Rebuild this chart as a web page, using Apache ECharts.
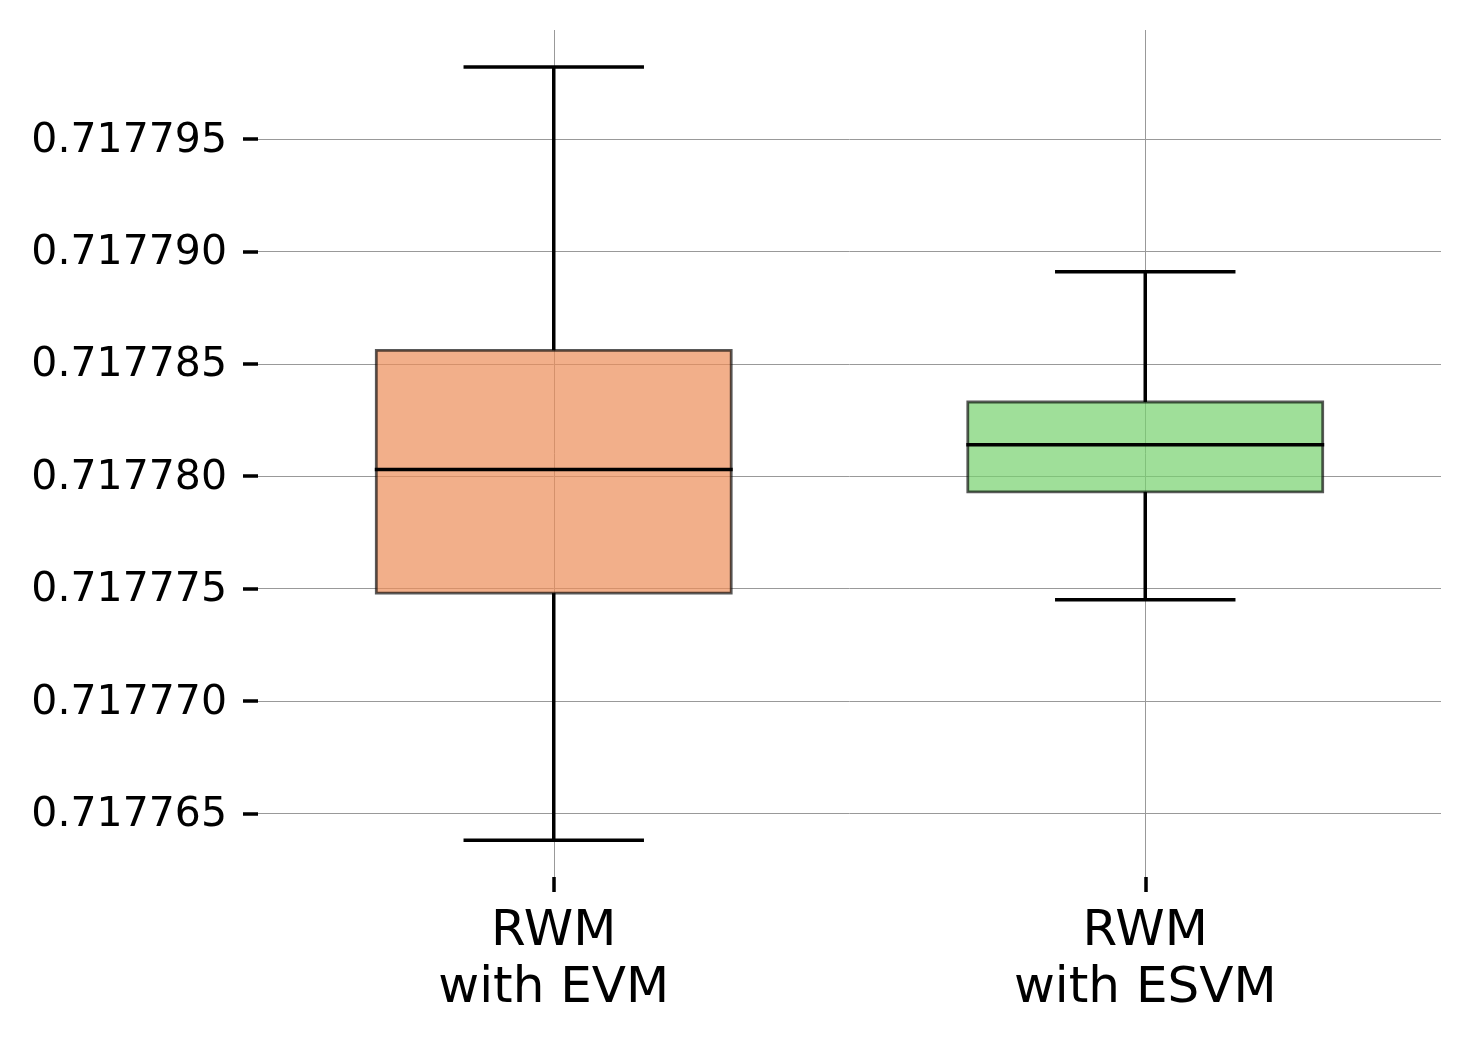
<!DOCTYPE html>
<html>
<head>
<meta charset="utf-8">
<script src="https://cdn.jsdelivr.net/npm/echarts@6/dist/echarts.min.js"></script>
<style>
html,body{margin:0;padding:0;background:#fff;}
#chart{width:1470px;height:1041px;}
</style>
</head>
<body>
<div id="chart"></div>
<script>
// Data
const categories = ['RWM\nwith EVM', 'RWM\nwith ESVM'];
const positions = [1, 2];
const lowerWhisker = [0.7177638, 0.7177745];
const q1 = [0.7177748, 0.7177793];
const median = [0.7177803, 0.7177814];
const q3 = [0.7177856, 0.7177833];
const upperWhisker = [0.7177982, 0.7177891];
const yTicks = [0.717765, 0.717770, 0.717775, 0.717780, 0.717785, 0.717790, 0.717795];
const boxColors = ['rgba(236,141,88,0.7)', 'rgba(118,209,109,0.7)'];

const data = positions.map((p, i) => [p, lowerWhisker[i], q1[i], median[i], q3[i], upperWhisker[i]]);

const chart = echarts.init(document.getElementById('chart'), null, {renderer: 'canvas'});

function renderItem(params, api) {
  const idx = params.dataIndex;
  const x = api.value(0);
  const band = api.size([1, 0])[0];
  const boxW = band * 0.6;
  const capW = band * 0.3;
  const pLow = api.coord([x, api.value(1)]);
  const pQ1 = api.coord([x, api.value(2)]);
  const pMed = api.coord([x, api.value(3)]);
  const pQ3 = api.coord([x, api.value(4)]);
  const pHigh = api.coord([x, api.value(5)]);
  const cx = pMed[0];
  const lineStyle = {stroke: '#000', lineWidth: 3.5, fill: null};
  return {
    type: 'group',
    children: [
      {
        type: 'rect',
        shape: {x: cx - boxW / 2, y: pQ3[1], width: boxW, height: pQ1[1] - pQ3[1]},
        style: {fill: boxColors[idx], stroke: 'rgba(0,0,0,0.65)', lineWidth: 2.8}
      },
      {type: 'line', shape: {x1: cx, y1: pQ3[1], x2: cx, y2: pHigh[1]}, style: lineStyle},
      {type: 'line', shape: {x1: cx, y1: pQ1[1], x2: cx, y2: pLow[1]}, style: lineStyle},
      {type: 'line', shape: {x1: cx - capW / 2 - 1.5, y1: pHigh[1], x2: cx + capW / 2 + 1.5, y2: pHigh[1]}, style: lineStyle},
      {type: 'line', shape: {x1: cx - capW / 2 - 1.5, y1: pLow[1], x2: cx + capW / 2 + 1.5, y2: pLow[1]}, style: lineStyle},
      {type: 'line', shape: {x1: cx - boxW / 2 - 1.5, y1: pMed[1], x2: cx + boxW / 2 + 1.5, y2: pMed[1]}, style: lineStyle}
    ]
  };
}

const option = {
  animation: false,
  backgroundColor: '#fff',
  textStyle: {fontFamily: 'DejaVu Sans'},
  grid: {left: 258, right: 29, top: 30, bottom: 164, containLabel: false, outerBoundsMode: 'none'},
  xAxis: {
    type: 'value',
    min: 0.5,
    max: 2.5,
    axisLine: {show: false},
    axisTick: {show: true, length: 15, customValues: positions, lineStyle: {color: '#000', width: 3.5}},
    axisLabel: {
      show: true,
      customValues: positions,
      margin: 27,
      fontSize: 50,
      lineHeight: 57,
      color: '#000',
      fontFamily: 'DejaVu Sans',
      formatter: function (v) { return categories[Math.round(v) - 1]; }
    },
    splitLine: {show: true, lineStyle: {color: '#999', width: 1}}
  },
  yAxis: {
    type: 'value',
    min: 0.71776217,
    max: 0.71779985,
    axisLine: {show: false},
    axisTick: {show: true, length: 15, customValues: yTicks, lineStyle: {color: '#000', width: 3.5}},
    axisLabel: {
      show: true,
      customValues: yTicks,
      margin: 31,
      color: '#000',
      fontFamily: 'DejaVu Sans',
      formatter: function (v) { return '{a|' + v.toFixed(6) + '}'; },
      rich: {
        a: {fontSize: 41, fontFamily: 'DejaVu Sans', color: '#000', padding: [4, 0, 0, 0]}
      }
    },
    splitLine: {show: true, lineStyle: {color: '#999', width: 1}}
  },
  series: [{
    type: 'custom',
    renderItem: renderItem,
    encode: {x: 0, y: [1, 2, 3, 4, 5]},
    data: data
  }]
};
chart.setOption(option);
</script>
</body>
</html>
